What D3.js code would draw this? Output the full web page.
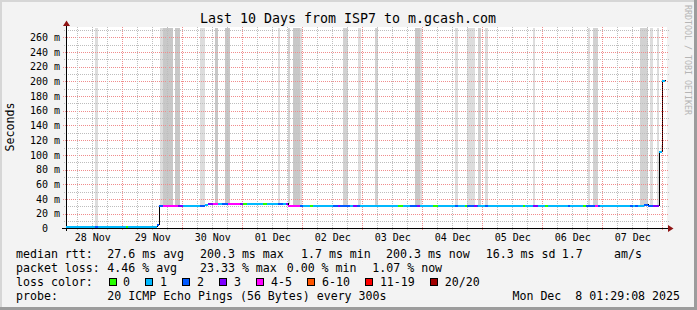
<!DOCTYPE html>
<html>
<head>
<meta charset="utf-8">
<script src="https://cdnjs.cloudflare.com/ajax/libs/d3/7.8.5/d3.min.js"></script>
<style>
body { margin: 0; background: #f3f3f3; }
svg text { font-family: "DejaVu Sans Mono", monospace; }
</style>
</head>
<body>
<div id="chart"></div>
<script>
// Chart Params
var svgWidth = 697;
var svgHeight = 310;

// time window of the graph
var startTime = "2025-11-28 01:29";
var endTime = "2025-12-08 01:29";

// median rtt steps: [time, ms, loss class]
var medianSteps = [
    ["2025-11-28 01:29", 2, 1], ["2025-11-28 13:05", 2, 2], ["2025-11-28 14:10", 2, 1],
    ["2025-11-29 01:22", 2, 0], ["2025-11-29 02:17", 2, 1], ["2025-11-29 14:00", 5, 2],
    ["2025-11-29 14:48", 30.5, 2], ["2025-11-29 16:24", 30.5, 4], ["2025-11-29 22:24", 30.5, 3],
    ["2025-11-30 00:10", 30.5, 1], ["2025-11-30 07:05", 30.5, 2], ["2025-11-30 09:05", 31.5, 1],
    ["2025-11-30 10:24", 33.3, 3], ["2025-11-30 12:24", 33.3, 4], ["2025-11-30 14:24", 33.3, 1],
    ["2025-11-30 15:46", 33.3, 2], ["2025-11-30 18:24", 33.3, 4], ["2025-11-30 23:05", 33.3, 3],
    ["2025-12-01 00:24", 33.3, 0], ["2025-12-01 01:46", 33.3, 1], ["2025-12-01 08:17", 33.3, 0],
    ["2025-12-01 10:00", 33.3, 1], ["2025-12-01 14:24", 33.3, 2], ["2025-12-01 16:24", 33.3, 1],
    ["2025-12-01 17:29", 33.3, 3], ["2025-12-01 18:24", 30.5, 4], ["2025-12-01 23:05", 30.5, 2],
    ["2025-12-02 00:10", 30.5, 1], ["2025-12-02 03:05", 30.5, 0], ["2025-12-02 04:10", 30.5, 1],
    ["2025-12-02 12:24", 30.5, 2], ["2025-12-02 14:24", 30.5, 3], ["2025-12-02 15:05", 30.5, 2],
    ["2025-12-02 19:05", 30.5, 1], ["2025-12-02 20:24", 30.5, 3], ["2025-12-02 21:46", 30.5, 2],
    ["2025-12-02 23:05", 30.5, 1], ["2025-12-03 14:24", 30.5, 0], ["2025-12-03 16:24", 30.5, 1],
    ["2025-12-03 19:05", 30.5, 2], ["2025-12-03 21:46", 30.5, 3], ["2025-12-03 23:05", 30.5, 1],
    ["2025-12-04 04:10", 30.5, 0], ["2025-12-04 06:10", 30.5, 1], ["2025-12-04 13:05", 30.5, 2],
    ["2025-12-04 14:24", 30.5, 1], ["2025-12-04 17:05", 30.5, 0], ["2025-12-04 18:00", 30.5, 2],
    ["2025-12-04 20:41", 30.5, 3], ["2025-12-04 21:46", 30.5, 2], ["2025-12-04 22:24", 30.5, 1],
    ["2025-12-05 01:05", 30.5, 2], ["2025-12-05 02:10", 30.5, 1], ["2025-12-05 16:10", 30.5, 0],
    ["2025-12-05 17:05", 30.5, 1], ["2025-12-05 20:10", 30.5, 3], ["2025-12-05 22:24", 30.5, 1],
    ["2025-12-06 01:05", 30.5, 0], ["2025-12-06 02:10", 30.5, 1], ["2025-12-06 10:24", 30.5, 2],
    ["2025-12-06 11:05", 30.5, 1], ["2025-12-06 16:24", 30.5, 0], ["2025-12-06 17:29", 30.5, 2],
    ["2025-12-06 21:05", 30.5, 4], ["2025-12-06 22:10", 30.5, 2], ["2025-12-06 23:05", 30.5, 1],
    ["2025-12-07 11:05", 30.5, 2], ["2025-12-07 12:10", 30.5, 1], ["2025-12-07 13:05", 30.5, 2],
    ["2025-12-07 14:24", 30.5, 1], ["2025-12-07 16:48", 31.5, 2], ["2025-12-07 18:24", 30.5, 2],
    ["2025-12-07 20:24", 30.5, 3], ["2025-12-07 22:48", 104.3, 1], ["2025-12-08 00:00", 200.3, 1],
    ["2025-12-08 01:05", 200.3, 1]
];

// smoke: [from, to, layers, top ms (optional)]
var smokeBands = [
    ["2025-11-28 13:05", "2025-11-28 14:24", 1], ["2025-11-29 15:05", "2025-11-29 16:24", 1],
    ["2025-11-29 16:24", "2025-11-29 20:10", 3], ["2025-11-29 21:05", "2025-11-29 23:05", 3],
    ["2025-11-30 07:05", "2025-11-30 09:05", 1], ["2025-11-30 13:05", "2025-11-30 14:17", 3],
    ["2025-11-30 17:05", "2025-11-30 19:05", 3], ["2025-12-01 14:24", "2025-12-01 15:05", 1],
    ["2025-12-01 18:05", "2025-12-01 19:05", 2], ["2025-12-01 20:10", "2025-12-01 23:05", 3],
    ["2025-12-01 23:05", "2025-12-01 23:53", 1], ["2025-12-02 16:24", "2025-12-02 18:10", 2],
    ["2025-12-02 22:24", "2025-12-02 23:17", 1], ["2025-12-03 05:05", "2025-12-03 06:17", 2],
    ["2025-12-03 21:05", "2025-12-03 23:05", 3], ["2025-12-03 23:05", "2025-12-03 23:41", 1],
    ["2025-12-04 13:05", "2025-12-04 14:24", 1], ["2025-12-04 17:46", "2025-12-04 21:05", 1],
    ["2025-12-04 22:24", "2025-12-04 23:22", 2], ["2025-12-05 01:05", "2025-12-05 02:10", 1],
    ["2025-12-05 20:24", "2025-12-05 21:12", 1], ["2025-12-06 18:05", "2025-12-06 19:05", 1],
    ["2025-12-06 20:10", "2025-12-06 22:24", 2], ["2025-12-07 15:05", "2025-12-07 18:24", 2],
    ["2025-12-07 19:05", "2025-12-07 20:10", 1], ["2025-12-07 21:46", "2025-12-07 22:34", 1],
    ["2025-12-07 23:35", "2025-12-08 00:00", 1, 114]
];

var lossLabels = ["0", "1", "2", "3", "4-5", "6-10", "11-19", "20/20"];
var lossColors = ["#26ff00", "#00b8ff", "#0059ff", "#7e00ff", "#ff00ff", "#ff5500", "#ff0000", "#a10000"];

var yMaxMs = 272.3;
var yGridMs = d3.range(0, 271, 10);
var yLabelMs = d3.range(0, 261, 20);

var titleText = "Last 10 Days from ISP7 to m.gcash.com";
var rttStats = ["27.6 ms avg", "200.3 ms max", "1.7 ms min", "200.3 ms now", "16.3 ms sd", "1.7", "am/s"];
var lossStats = ["4.46 % avg", "23.33 % max", "0.00 % min", "1.07 % now"];
var probeText = "20 ICMP Echo Pings (56 Bytes) every 300s";
var stampText = "Mon Dec  8 01:29:08 2025";

// scales
var parseTime = d3.timeParse("%Y-%m-%d %H:%M");
var x = d3.scaleTime()
    .domain([parseTime(startTime), parseTime(endTime)])
    .range([66, 666]);
var y = d3.scaleLinear()
    .domain([0, yMaxMs])
    .range([228.3, 28.3]);
var px = v => Math.round(v) + 0.5;

var steps = medianSteps.map(d => ({t: parseTime(d[0]), v: d[1], loss: d[2]}));
function medianAt(t) {
    var v = steps[0].v;
    steps.forEach(s => { if (s.t <= t) v = s.v; });
    return v;
}

var svg = d3.select("#chart")
    .append("svg")
    .attr("width", svgWidth)
    .attr("height", svgHeight);

// background + frame
svg.append("rect").attr("width", svgWidth).attr("height", svgHeight).attr("fill", "#f3f3f3");
svg.append("rect").attr("width", svgWidth).attr("height", 2).attr("fill", "#d6d6d6");
svg.append("rect").attr("width", 2).attr("height", svgHeight).attr("fill", "#d6d6d6");
svg.append("rect").attr("y", svgHeight - 3).attr("width", svgWidth).attr("height", 3).attr("fill", "#9c9c9c");
svg.append("rect").attr("x", svgWidth - 3).attr("width", 3).attr("height", svgHeight).attr("fill", "#9c9c9c");

// canvas
svg.append("rect").attr("x", 66).attr("y", 27).attr("width", 601).attr("height", 201).attr("fill", "#ffffff");

// smoke
var smokeFill = d3.scaleOrdinal().domain([1, 2, 3]).range(["#dddddd", "#d2d2d2", "#c8c8c8"]);
svg.append("g").selectAll("rect")
    .data(smokeBands)
    .enter()
    .append("rect")
    .attr("x", d => Math.round(x(parseTime(d[0]))))
    .attr("width", d => Math.max(1, Math.round(x(parseTime(d[1]))) - Math.round(x(parseTime(d[0])))))
    .attr("y", d => Math.round(y(d[3] || yMaxMs)))
    .attr("height", d => Math.round(y(medianAt(parseTime(d[0])))) - Math.round(y(d[3] || yMaxMs)))
    .attr("fill", d => smokeFill(d[2]));

// grid
var majorColor = "#f08c8c";
var minorColor = "#bdbdbd";
var grid = svg.append("g").attr("shape-rendering", "crispEdges");
grid.selectAll("line.hgrid")
    .data(yGridMs.filter(v => v > 0))
    .enter()
    .append("line")
    .attr("x1", v => v % 20 === 0 ? 63 : 64)
    .attr("x2", 669)
    .attr("y1", v => px(y(v)))
    .attr("y2", v => px(y(v)))
    .attr("stroke", v => v % 20 === 0 ? majorColor : minorColor)
    .attr("stroke-dasharray", "1,1");

var days = d3.timeDay.range(x.domain()[0], x.domain()[1]);
var quarters = d3.timeHour.every(6).range(x.domain()[0], x.domain()[1])
    .filter(d => d.getHours() !== 0);
grid.selectAll("line.minor")
    .data(quarters)
    .enter()
    .append("line")
    .attr("x1", d => px(x(d)))
    .attr("x2", d => px(x(d)))
    .attr("y1", 27)
    .attr("y2", 230)
    .attr("stroke", minorColor)
    .attr("stroke-dasharray", "1,1");
grid.selectAll("line.major")
    .data(days)
    .enter()
    .append("line")
    .attr("x1", d => px(x(d)))
    .attr("x2", d => px(x(d)))
    .attr("y1", 27)
    .attr("y2", 231)
    .attr("stroke", majorColor)
    .attr("stroke-dasharray", "1,1");

// axes lines and arrows
svg.append("path").attr("d", "M62,228.5H669").attr("stroke", "#000").attr("shape-rendering", "crispEdges");
svg.append("path").attr("d", "M66.5,231V25").attr("stroke", "#000").attr("shape-rendering", "crispEdges");
svg.append("polygon").attr("points", "668,225 673.5,228.5 668,232").attr("fill", "#8f1414");
svg.append("polygon").attr("points", "63,26 66.5,20.5 70,26").attr("fill", "#8f1414");

// median line: thin black step, colored loss segments on top
var stepLine = d3.line()
    .x(d => px(x(d.t)))
    .y(d => Math.round(y(d.v)) - 0.5)
    .curve(d3.curveStepAfter);
svg.append("path")
    .attr("d", stepLine(steps))
    .attr("fill", "none")
    .attr("stroke", "#000")
    .attr("shape-rendering", "crispEdges");

var last = steps.length - 2;
svg.append("line")
    .attr("x1", px(x(steps[last].t)))
    .attr("x2", px(x(steps[last].t)))
    .attr("y1", Math.round(y(steps[last - 1].v)))
    .attr("y2", Math.round(y(steps[last].v)))
    .attr("stroke", lossColors[7])
    .attr("stroke-dasharray", "1,1")
    .attr("shape-rendering", "crispEdges");

svg.append("g").selectAll("line")
    .data(steps.slice(0, -1))
    .enter()
    .append("line")
    .attr("x1", d => Math.round(x(d.t)))
    .attr("x2", (d, i) => Math.round(x(steps[i + 1].t)))
    .attr("y1", d => Math.round(y(d.v)))
    .attr("y2", d => Math.round(y(d.v)))
    .attr("stroke", d => lossColors[d.loss])
    .attr("stroke-width", 2)
    .attr("shape-rendering", "crispEdges");

// y tick labels
var yAxis = svg.append("g")
    .attr("transform", "translate(60,0)")
    .call(d3.axisLeft(y)
        .tickValues(yLabelMs)
        .tickSize(0)
        .tickPadding(0)
        .tickFormat(v => v === 0 ? "0\u00a0\u00a0" : v + "\u00a0m"));
yAxis.select(".domain").remove();
yAxis.selectAll("text").attr("font-size", "10px").attr("fill", "#000");

// x tick labels at noon of each day
var labelDays = d3.timeDay.range(d3.timeDay.floor(x.domain()[0]), x.domain()[1]);
var noons = labelDays.map(d => d3.timeHour.offset(d, 12)).filter(d => d < x.domain()[1]);
var xAxis = svg.append("g")
    .attr("transform", "translate(0,234)")
    .call(d3.axisBottom(x)
        .tickValues(noons)
        .tickSize(0)
        .tickPadding(0)
        .tickFormat(d3.timeFormat("%d %b")));
xAxis.select(".domain").remove();
xAxis.selectAll("text").attr("font-size", "10px").attr("fill", "#000");

// title and side labels
svg.append("text")
    .attr("x", 348).attr("y", 23)
    .attr("text-anchor", "middle")
    .attr("font-size", "13.3px")
    .text(titleText);
svg.append("text")
    .attr("transform", "translate(14,127) rotate(-90)")
    .attr("text-anchor", "middle")
    .attr("font-size", "11.6px")
    .text("Seconds");
svg.append("text")
    .attr("transform", "translate(685,5) rotate(90)")
    .attr("font-size", "8.3px")
    .attr("fill", "#b5b5b5")
    .text("RRDTOOL / TOBI OETIKER");

// legend
var legend = svg.append("g").attr("font-size", "11.6px");
function legendText(tx, ty, s) {
    legend.append("text").attr("x", tx).attr("y", ty)
        .attr("font-size", "11.6px")
        .style("white-space", "pre")
        .text(s);
}
var rttX = [107.3, 200, 301, 386, 485.7, 561.7, 614];
var lossX = [107.3, 200, 286.7, 372.3];
legendText(16, 257.5, "median rtt:");
rttStats.forEach((s, i) => legendText(rttX[i], 257.5, s));
legendText(16, 271.5, "packet loss:");
lossStats.forEach((s, i) => legendText(lossX[i], 271.5, s));
legendText(16, 285.5, "loss color:");
var bx = 108.5;
lossLabels.forEach(function(lbl, i) {
    legend.append("rect")
        .attr("x", Math.round(bx) + 0.5).attr("y", 278.5)
        .attr("width", 7).attr("height", 7)
        .attr("fill", lossColors[i])
        .attr("stroke", "#000");
    legendText(bx + 14.6, 285.5, lbl);
    bx += 30 + 6.98 * lbl.length;
});
legendText(16, 299.5, "probe:");
legendText(107.3, 299.5, probeText);
legend.append("text").attr("x", 680).attr("y", 299.5)
    .attr("text-anchor", "end")
    .attr("font-size", "11.6px")
    .style("white-space", "pre")
    .text(stampText);
</script>
</body>
</html>
